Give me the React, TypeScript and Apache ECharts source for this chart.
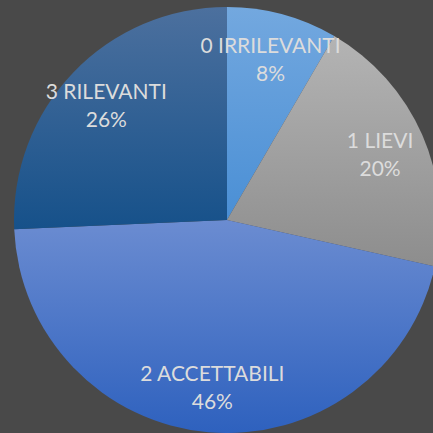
import React, { useEffect, useRef } from "react";
import * as echarts from "echarts";

const categories = ["0 IRRILEVANTI", "1 LIEVI", "2 ACCETTABILI", "3 RILEVANTI"];
const values = [8.4, 20.1, 45.8, 25.7];
const topColors = ["#73a8df", "#b4b4b4", "#6b8cd1", "#4c709e"];
const bottomColors = ["#4a8fd5", "#8d8d8d", "#2e61be", "#16518a"];

export default function App() {
  const ref = useRef<HTMLDivElement>(null);
  useEffect(() => {
    if (!ref.current) return;
    const chart = echarts.init(ref.current, null, { renderer: "svg" });
    const grad = (i: number) =>
      new echarts.graphic.LinearGradient(0, 0, 0, 1, [
        { offset: 0, color: topColors[i] },
        { offset: 1, color: bottomColors[i] },
      ]);
    const data = categories.map((name, i) => ({
      name,
      value: values[i],
      itemStyle: { color: grad(i) },
    }));
    chart.setOption({
      animation: false,
      backgroundColor: "#494949",
      series: [
        {
          type: "pie",
          center: [227, 220],
          radius: [0, 213],
          startAngle: 90,
          clockwise: true,
          silent: true,
          label: { show: false },
          labelLine: { show: false },
          itemStyle: { borderWidth: 0 },
          data,
        },
        {
          type: "pie",
          center: [227, 220],
          radius: [115, 213],
          startAngle: 90,
          clockwise: true,
          silent: true,
          itemStyle: { color: "rgba(0,0,0,0)", borderWidth: 0 },
          label: {
            show: true,
            position: "inside",
            formatter: (p: any) => `${p.name}\n${Math.round(p.percent)}%`,
            color: "#dcdcdc",
            fontFamily: "Lato",
            fontSize: 21,
            lineHeight: 28,
            align: "center",
          },
          labelLine: { show: false },
          data: categories.map((name, i) => ({ name, value: values[i] })),
        },
      ],
    });
    return () => chart.dispose();
  }, []);
  return (
    <div
      ref={ref}
      style={{ position: "fixed", left: 0, top: 0, width: 433, height: 433 }}
    />
  );
}
